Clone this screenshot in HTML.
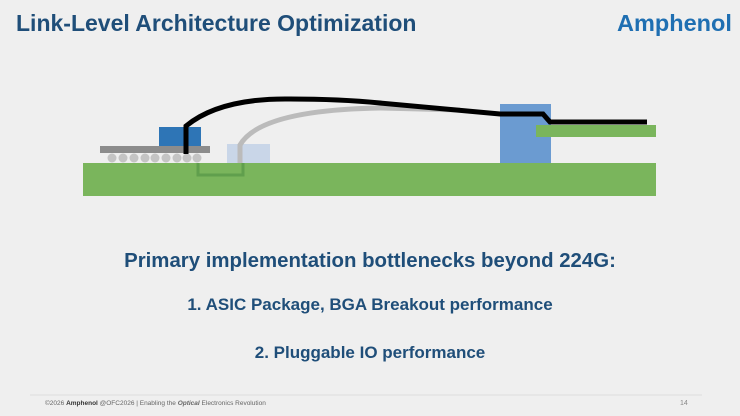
<!DOCTYPE html>
<html><head><style>
body{margin:0;width:740px;height:416px;background:#efefef;position:relative;overflow:hidden;font-family:"Liberation Sans",sans-serif}
.t{position:absolute;white-space:nowrap;font-weight:bold}
</style></head><body>
<div class="t" style="left:16px;top:10px;font-size:23px;color:#1f4e79">Link-Level Architecture Optimization</div>
<div class="t" style="left:617px;top:10px;font-size:23.5px;color:#1f6fb2">Amphenol</div>
<svg width="740" height="416" style="position:absolute;left:0;top:0">
<rect x="83" y="163" width="573" height="33" fill="#7ab55c"/>
<rect x="227" y="144" width="43" height="19" fill="#c9d6e8"/>
<path d="M198 163 V175 H243 V163" fill="none" stroke="#5a9a4a" stroke-width="3" opacity="0.8"/>
<path d="M240 163 V145 Q260 110 380 108 L460 110" fill="none" stroke="#bbb" stroke-width="5"/>
<rect x="100" y="146" width="110" height="7" fill="#8c8c8c"/>
<g fill="#c4c4c4">
<circle cx="112" cy="158" r="4.5"/><circle cx="123" cy="158" r="4.5"/><circle cx="134" cy="158" r="4.5"/><circle cx="145" cy="158" r="4.5"/><circle cx="155" cy="158" r="4.5"/><circle cx="166" cy="158" r="4.5"/><circle cx="177" cy="158" r="4.5"/><circle cx="187" cy="158" r="4.5"/><circle cx="197" cy="158" r="4.5"/>
</g>
<rect x="159" y="127" width="42" height="19" fill="#2e75b6"/>
<rect x="500" y="104" width="51" height="59" fill="#6b9bd1"/>
<rect x="536" y="125" width="120" height="12" fill="#7ab55c"/>
<path d="M186 154 V126 Q220 98 290 99 Q340 99 380 103 L500 114 L543 114 L550 122 L647 122" fill="none" stroke="#000" stroke-width="5"/>
<line x1="30" y1="395" x2="702" y2="395" stroke="#ddd" stroke-width="1"/>
</svg>
<div class="t" style="left:0;width:740px;text-align:center;top:250px;font-size:20.4px;color:#1f4e79">Primary implementation bottlenecks beyond 224G:</div>
<div class="t" style="left:0;width:740px;text-align:center;top:295px;font-size:17px;color:#1f4e79">1. ASIC Package, BGA Breakout performance</div>
<div class="t" style="left:0;width:740px;text-align:center;top:343px;font-size:17px;color:#1f4e79">2. Pluggable IO performance</div>
<div style="position:absolute;left:45px;top:400px;font-size:6.5px;color:#666;white-space:nowrap">©2026 <b style="color:#333">Amphenol</b> @OFC2026 | Enabling the <b><i>Optical</i></b> Electronics Revolution</div>
<div style="position:absolute;left:680px;top:400px;font-size:7px;color:#888">14</div>
</body></html>
